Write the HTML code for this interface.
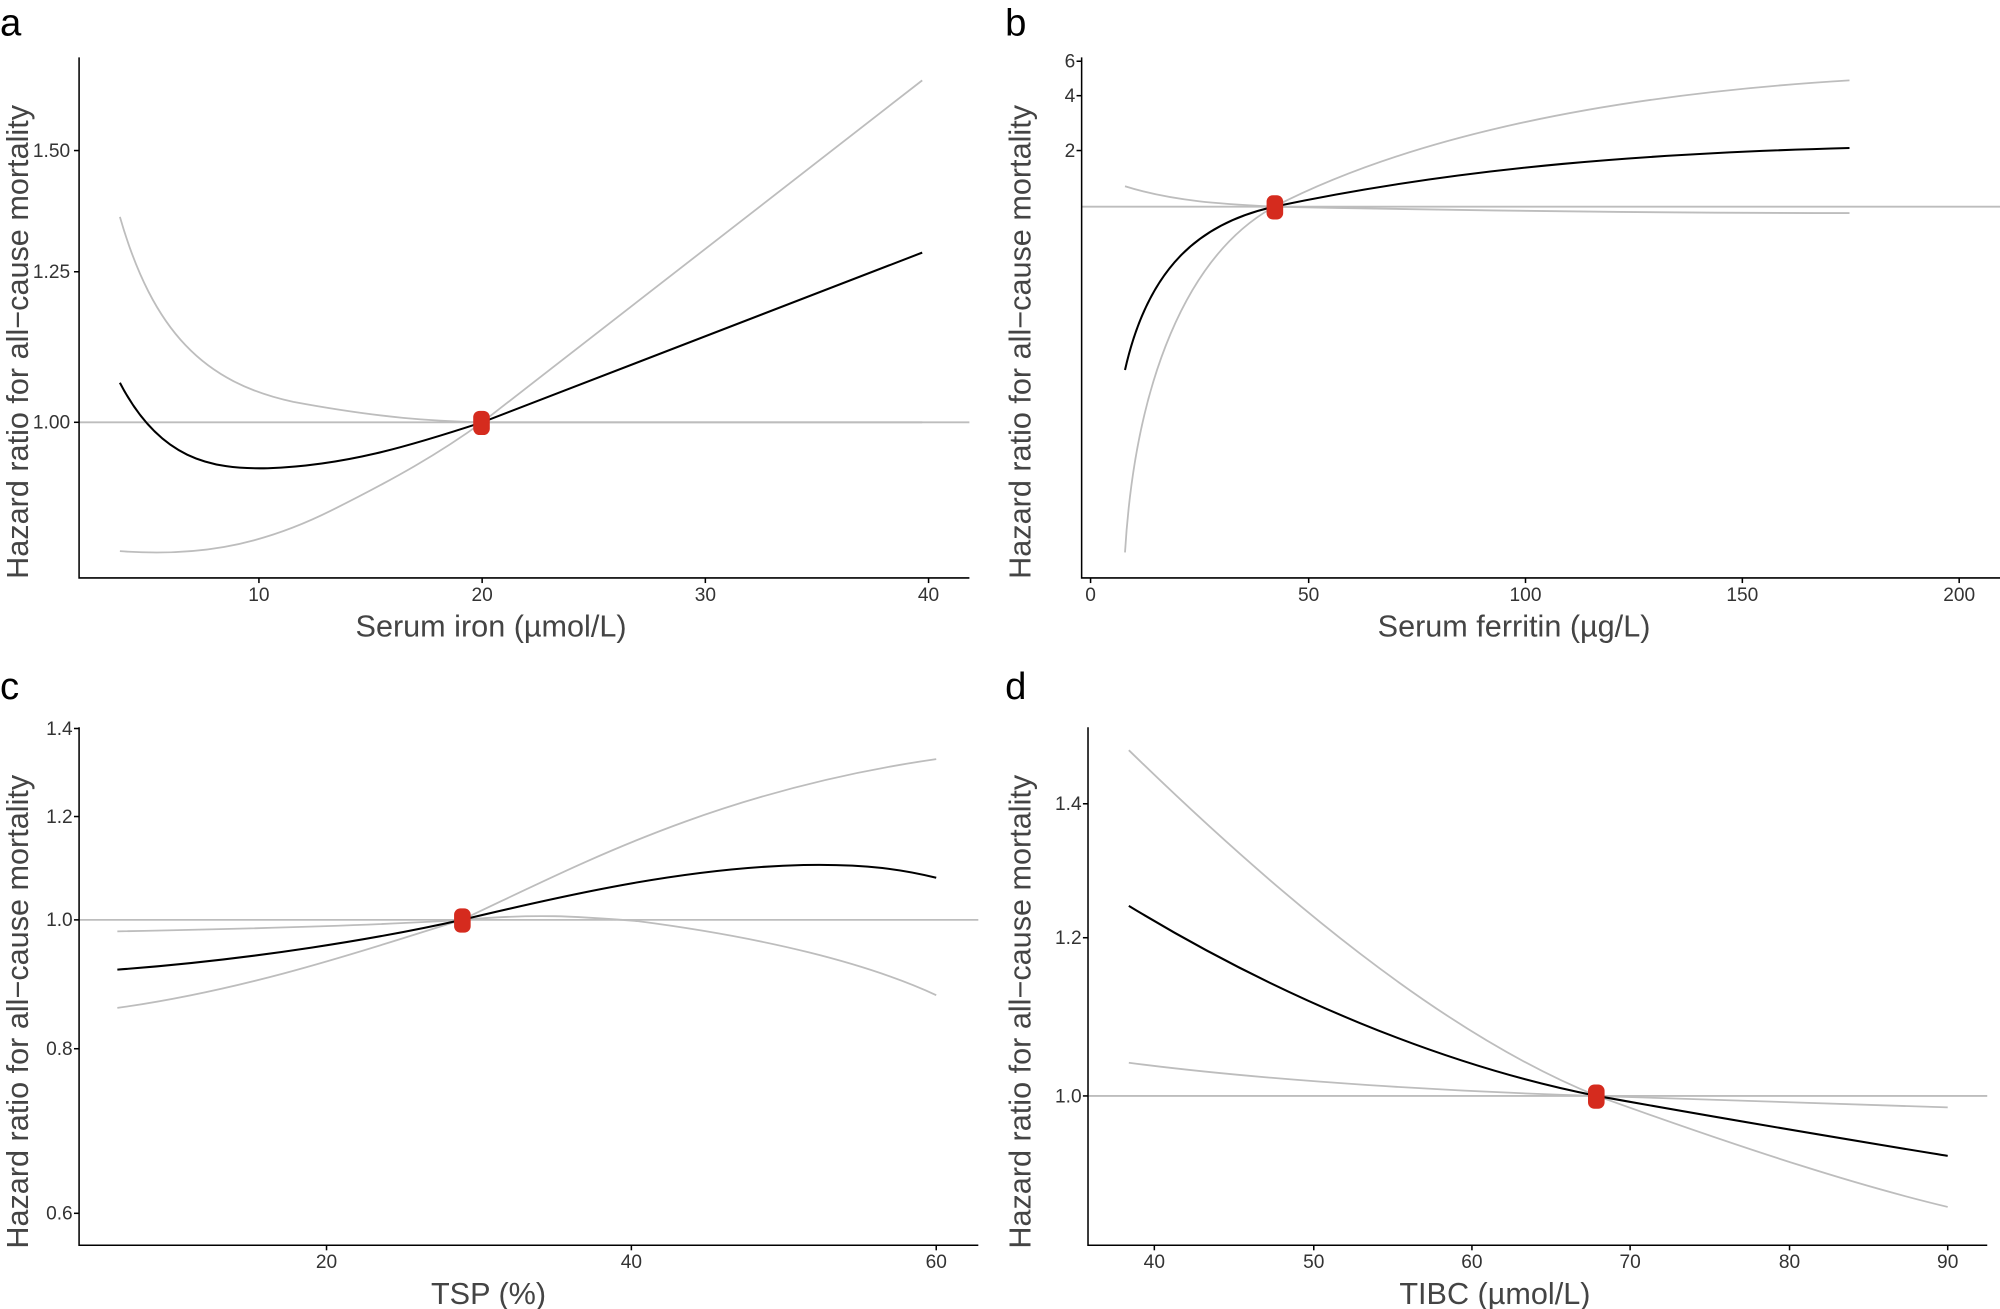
<!DOCTYPE html>
<html><head><meta charset="utf-8"><style>
html,body{margin:0;padding:0;background:#fff;}
svg{display:block;}
text{font-family:"Liberation Sans",sans-serif;}
.tk{font-size:15px;fill:#333;}
.tt{font-size:24px;fill:#444;}
.pl{font-size:30px;fill:#000;}
.g{fill:none;stroke:#bdbdbd;stroke-width:1.4;}
.b{fill:none;stroke:#000;stroke-width:1.6;}
.ax{stroke:#000;stroke-width:1.2;fill:none;}
</style></head><body>
<svg width="2000" height="1309" viewBox="0 0 1568 1026" preserveAspectRatio="none" xmlns="http://www.w3.org/2000/svg">
<!-- Panel a -->
<text class="pl" x="0" y="28">a</text>
<line class="g" x1="62" y1="331" x2="760" y2="331"/>
<path class="g" d="M94,170 C120,260 160,300 230,315 C300,328 340,330 378,331 L723,331"/>
<path class="g" d="M94,432 C150,436 200,430 260,400 C310,375 345,355 378,331 L723,63"/>
<path class="b" d="M94,300 C125,360 165,368 210,367 C270,365 320,350 378,331 L723,198"/>
<rect x="371" y="322" width="13" height="19" rx="5" fill="#d52b1e"/>
<path class="ax" d="M62,45 V453 H760"/>
<g class="tk" text-anchor="end">
<text x="55" y="123">1.50</text><line class="ax" x1="58" y1="118" x2="62" y2="118"/>
<text x="55" y="218">1.25</text><line class="ax" x1="58" y1="213" x2="62" y2="213"/>
<text x="55" y="336">1.00</text><line class="ax" x1="58" y1="331" x2="62" y2="331"/>
</g>
<g class="tk" text-anchor="middle">
<text x="203" y="471">10</text><line class="ax" x1="203" y1="453" x2="203" y2="457"/>
<text x="378" y="471">20</text><line class="ax" x1="378" y1="453" x2="378" y2="457"/>
<text x="553" y="471">30</text><line class="ax" x1="553" y1="453" x2="553" y2="457"/>
<text x="728" y="471">40</text><line class="ax" x1="728" y1="453" x2="728" y2="457"/>
</g>
<text class="tt" x="385" y="499" text-anchor="middle">Serum iron (µmol/L)</text>
<text class="tt" transform="translate(22,268) rotate(-90)" text-anchor="middle">Hazard ratio for all−cause mortality</text>

<!-- Panel b -->
<text class="pl" x="788" y="28">b</text>
<line class="g" x1="848" y1="162" x2="1568" y2="162"/>
<path class="g" d="M882,146 C920,158 960,160 999,162 C1100,110 1250,75 1450,63"/>
<path class="g" d="M882,433 C890,300 930,200 999,162 C1150,165 1300,167 1450,167"/>
<path class="b" d="M882,290 C900,210 940,175 999,162 C1150,130 1300,120 1450,116"/>
<rect x="993" y="153" width="13" height="19" rx="5" fill="#d52b1e"/>
<path class="ax" d="M848,45 V453 H1568"/>
<g class="tk" text-anchor="end">
<text x="843" y="53">6</text><line class="ax" x1="844" y1="48" x2="848" y2="48"/>
<text x="843" y="80">4</text><line class="ax" x1="844" y1="75" x2="848" y2="75"/>
<text x="843" y="123">2</text><line class="ax" x1="844" y1="118" x2="848" y2="118"/>
</g>
<g class="tk" text-anchor="middle">
<text x="855" y="471">0</text><line class="ax" x1="855" y1="453" x2="855" y2="457"/>
<text x="1026" y="471">50</text><line class="ax" x1="1026" y1="453" x2="1026" y2="457"/>
<text x="1196" y="471">100</text><line class="ax" x1="1196" y1="453" x2="1196" y2="457"/>
<text x="1366" y="471">150</text><line class="ax" x1="1366" y1="453" x2="1366" y2="457"/>
<text x="1536" y="471">200</text><line class="ax" x1="1536" y1="453" x2="1536" y2="457"/>
</g>
<text class="tt" x="1187" y="499" text-anchor="middle">Serum ferritin (µg/L)</text>
<text class="tt" transform="translate(808,268) rotate(-90)" text-anchor="middle">Hazard ratio for all−cause mortality</text>

<!-- Panel c -->
<text class="pl" x="0" y="548">c</text>
<line class="g" x1="62" y1="721" x2="767" y2="721"/>
<path class="g" d="M92,730 C200,728 300,725 362,721 C450,680 560,620 734,595"/>
<path class="g" d="M92,790 C200,775 300,740 362,721 C420,716 450,718 500,722 C600,735 680,755 734,780"/>
<path class="b" d="M92,760 C200,752 300,735 362,721 C450,700 540,680 630,678 C680,677 710,682 734,688"/>
<rect x="356" y="712" width="13" height="19" rx="5" fill="#d52b1e"/>
<path class="ax" d="M62,570 V976 H767"/>
<g class="tk" text-anchor="end">
<text x="57" y="576">1.4</text><line class="ax" x1="58" y1="571" x2="62" y2="571"/>
<text x="57" y="645">1.2</text><line class="ax" x1="58" y1="640" x2="62" y2="640"/>
<text x="57" y="726">1.0</text><line class="ax" x1="58" y1="721" x2="62" y2="721"/>
<text x="57" y="827">0.8</text><line class="ax" x1="58" y1="822" x2="62" y2="822"/>
<text x="57" y="956">0.6</text><line class="ax" x1="58" y1="951" x2="62" y2="951"/>
</g>
<g class="tk" text-anchor="middle">
<text x="256" y="994">20</text><line class="ax" x1="256" y1="976" x2="256" y2="980"/>
<text x="495" y="994">40</text><line class="ax" x1="495" y1="976" x2="495" y2="980"/>
<text x="734" y="994">60</text><line class="ax" x1="734" y1="976" x2="734" y2="980"/>
</g>
<text class="tt" x="383" y="1022" text-anchor="middle">TSP (%)</text>
<text class="tt" transform="translate(22,793) rotate(-90)" text-anchor="middle">Hazard ratio for all−cause mortality</text>

<!-- Panel d -->
<text class="pl" x="788" y="548">d</text>
<line class="g" x1="853" y1="859" x2="1558" y2="859"/>
<path class="g" d="M885,588 C1000,700 1130,810 1252,859 C1380,905 1460,930 1527,946"/>
<path class="g" d="M885,833 C1000,848 1150,856 1252,859 C1400,864 1470,866 1527,868"/>
<path class="b" d="M885,710 C1000,780 1130,835 1252,859 C1380,882 1460,895 1527,906"/>
<rect x="1245" y="850" width="13" height="19" rx="5" fill="#d52b1e"/>
<path class="ax" d="M853,570 V976 H1558"/>
<g class="tk" text-anchor="end">
<text x="848" y="635">1.4</text><line class="ax" x1="849" y1="630" x2="853" y2="630"/>
<text x="848" y="740">1.2</text><line class="ax" x1="849" y1="735" x2="853" y2="735"/>
<text x="848" y="864">1.0</text><line class="ax" x1="849" y1="859" x2="853" y2="859"/>
</g>
<g class="tk" text-anchor="middle">
<text x="905" y="994">40</text><line class="ax" x1="905" y1="976" x2="905" y2="980"/>
<text x="1030" y="994">50</text><line class="ax" x1="1030" y1="976" x2="1030" y2="980"/>
<text x="1154" y="994">60</text><line class="ax" x1="1154" y1="976" x2="1154" y2="980"/>
<text x="1278" y="994">70</text><line class="ax" x1="1278" y1="976" x2="1278" y2="980"/>
<text x="1403" y="994">80</text><line class="ax" x1="1403" y1="976" x2="1403" y2="980"/>
<text x="1527" y="994">90</text><line class="ax" x1="1527" y1="976" x2="1527" y2="980"/>
</g>
<text class="tt" x="1172" y="1022" text-anchor="middle">TIBC (µmol/L)</text>
<text class="tt" transform="translate(808,793) rotate(-90)" text-anchor="middle">Hazard ratio for all−cause mortality</text>
</svg>
</body></html>
